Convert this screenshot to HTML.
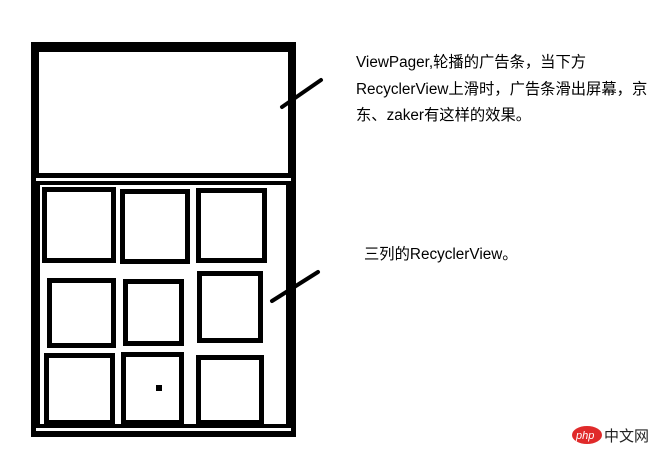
<!DOCTYPE html>
<html><head><meta charset="utf-8"><style>
body{margin:0;width:663px;height:457px;background:#fff;position:relative;overflow:hidden;font-family:"Liberation Sans","Noto Sans CJK SC",sans-serif}
.a{position:absolute}
.b{position:absolute;background:#fff}
.g{position:absolute;border:5px solid #000;box-sizing:border-box;background:#fff}
.t{position:absolute;font-size:15.3px;line-height:26.5px;color:#000;white-space:nowrap}
</style></head><body>
<div class="a" style="left:31px;top:42px;width:265px;height:395px;background:#000"></div>
<div class="b" style="left:39px;top:52px;width:249px;height:121px"></div>
<div class="b" style="left:36px;top:178px;width:255px;height:3px"></div>
<div class="b" style="left:40px;top:185px;width:246px;height:239px"></div>
<div class="b" style="left:36px;top:428px;width:255px;height:3px"></div>

<div class="g" style="left:42px;top:187px;width:74px;height:76px"></div>
<div class="g" style="left:120px;top:189px;width:70px;height:75px"></div>
<div class="g" style="left:196px;top:188px;width:71px;height:75px"></div>
<div class="g" style="left:47px;top:278px;width:69px;height:70px"></div>
<div class="g" style="left:123px;top:279px;width:61px;height:67px"></div>
<div class="g" style="left:197px;top:271px;width:66px;height:72px"></div>
<div class="g" style="left:44px;top:353px;width:71px;height:72px"></div>
<div class="g" style="left:121px;top:352px;width:63px;height:73px"></div>
<div class="g" style="left:196px;top:355px;width:68px;height:70px"></div>
<div class="a" style="left:156px;top:385px;width:6px;height:6px;background:#000"></div>

<svg class="a" style="left:0;top:0" width="663" height="457">
<line x1="282" y1="107" x2="321" y2="80" stroke="#000" stroke-width="4" stroke-linecap="round"/>
<line x1="272" y1="301" x2="318" y2="272" stroke="#000" stroke-width="4" stroke-linecap="round"/>
<ellipse cx="587" cy="435" rx="15" ry="9" fill="#e02a2a"/>
<text x="576" y="439" font-size="11" fill="#fff" font-style="italic" font-family="Liberation Sans">php</text>
<text x="604" y="441" font-size="15" fill="#222" font-family="Noto Sans CJK SC">中文网</text>
</svg>

<div class="t" style="left:356px;top:50px">ViewPager,轮播的广告条，当下方<br>RecyclerView上滑时，广告条滑出屏幕，京<br>东、zaker有这样的效果。</div>
<div class="t" style="left:364px;top:242px">三列的RecyclerView。</div>
</body></html>
